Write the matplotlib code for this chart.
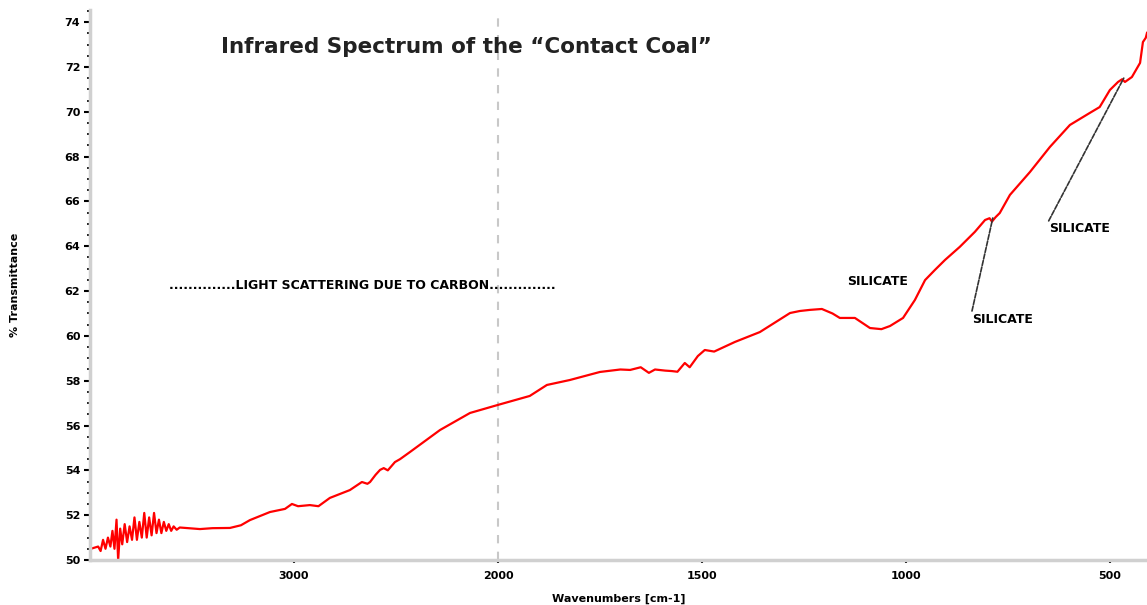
import numpy as np
import matplotlib
matplotlib.use("Agg")
import matplotlib.pyplot as plt

# Spectrum (wavenumber in cm-1, % transmittance)
noisy_wn = [4000, 3960, 3948, 3936, 3924, 3912, 3900, 3890, 3880, 3870, 3862,
            3852, 3842, 3830, 3818, 3806, 3794, 3782, 3770, 3758, 3746, 3734,
            3722, 3710, 3698, 3686, 3674, 3662, 3650, 3638, 3626, 3614, 3602,
            3590, 3575, 3560]
noisy_t = [50.49, 50.6, 50.4, 50.9, 50.5, 51.0, 50.6, 51.3, 50.5, 51.8, 50.0,
           51.4, 50.7, 51.6, 50.8, 51.5, 50.9, 51.9, 50.9, 51.7, 51.0, 52.1,
           51.0, 51.9, 51.1, 52.1, 51.2, 51.8, 51.2, 51.7, 51.3, 51.6, 51.3,
           51.5, 51.35, 51.45]

main_wn = [3461, 3400, 3314, 3260, 3216, 3118, 3044, 3010, 2980, 2922, 2880,
           2824, 2726, 2667, 2640, 2627, 2600, 2578, 2560, 2540, 2505, 2480,
           2431, 2284, 2137, 2000, 1922, 1880, 1824, 1750, 1700, 1676, 1650,
           1630, 1615, 1590, 1574, 1560, 1542, 1530, 1510, 1493, 1470, 1419,
           1358, 1284, 1260, 1235, 1206, 1180, 1162, 1125, 1088, 1060, 1039,
           1007, 978, 953, 929, 904, 868, 831, 806, 795, 789, 780, 770, 745,
           696, 647, 598, 549, 525, 500, 480, 470, 463, 446, 426, 419, 412, 409]
main_t = [51.38, 51.42, 51.43, 51.55, 51.78, 52.14, 52.28, 52.5, 52.4, 52.45,
          52.4, 52.77, 53.12, 53.48, 53.4, 53.48, 53.8, 54.02, 54.1, 54.0,
          54.37, 54.5, 54.82, 55.80, 56.56, 56.92, 57.32, 57.81, 58.03, 58.39,
          58.5, 58.48, 58.6, 58.35, 58.5, 58.45, 58.43, 58.4, 58.79, 58.6,
          59.1, 59.37, 59.3, 59.73, 60.17, 61.02, 61.11, 61.16, 61.20, 61.0,
          60.80, 60.80, 60.35, 60.3, 60.44, 60.80, 61.60, 62.49, 62.94, 63.39,
          63.97, 64.64, 65.17, 65.25, 65.10, 65.30, 65.48, 66.29, 67.31, 68.43,
          69.41, 69.95, 70.21, 70.97, 71.33, 71.45, 71.33, 71.55, 72.18, 73.11,
          73.3, 73.52]

x_ticks = [3000, 2000, 1500, 1000, 500]
y_ticks = list(range(50, 75, 2))

wn = np.array(noisy_wn + main_wn, dtype=float)
trans = np.array(noisy_t + main_t)


# axis is compressed 2:1 above 2000 cm-1
def forward(w):
    w = np.asarray(w, dtype=float)
    return np.where(w > 2000, 1000 + w / 2, w)


def inverse(u):
    u = np.asarray(u, dtype=float)
    return np.where(u > 2000, 2 * (u - 1000), u)


fig = plt.figure(figsize=(11.47, 6.05), dpi=100)
ax = fig.add_axes([90 / 1147, 45 / 605, 1057 / 1147, 550 / 605])
ax.set_xscale("function", functions=(forward, inverse))

ax.plot(wn, trans, color="#ff0000", lw=1.6)
ax.axvline(2000, color="#c8c8c8", lw=1.5, ls=(0, (4, 4)), zorder=0)

ax.set_xlim(4000, 409)
ax.set_ylim(50, 74.54)
ax.set_xticks(x_ticks)
ax.set_xticklabels([str(t) for t in x_ticks], fontsize=8, fontweight="bold")
ax.set_yticks(y_ticks)
ax.set_yticklabels([str(t) for t in y_ticks], fontsize=8, fontweight="bold")
ax.set_yticks(np.arange(50, 74.6, 0.5), minor=True)
ax.xaxis.set_minor_locator(matplotlib.ticker.NullLocator())
ax.tick_params(axis="y", which="major", length=4, width=1.5, pad=3)
ax.tick_params(axis="y", which="minor", length=2, width=1.2)
ax.tick_params(axis="x", which="major", length=2, width=1.5, pad=6)

for side in ("top", "right"):
    ax.spines[side].set_visible(False)
for side in ("left", "bottom"):
    ax.spines[side].set_color("#d0d0d0")
    ax.spines[side].set_linewidth(2.5)

ax.set_ylabel("% Transmittance", fontsize=8, fontweight="bold", labelpad=32)
ax.set_xlabel("Wavenumbers [cm-1]", fontsize=8, fontweight="bold", labelpad=9)

fig.text(0.407, 0.922, "Infrared Spectrum of the \u201cContact Coal\u201d",
         ha="center", va="center", fontsize=15.5, fontweight="bold",
         color="#222222")

dots = "." * 14
ax.text(2667, 62.23, dots + "LIGHT SCATTERING DUE TO CARBON" + dots,
        ha="center", va="center", fontsize=9, fontweight="bold")

label_kw = dict(ha="center", va="center", fontsize=9, fontweight="bold")
line_props = dict(arrowstyle="-", color="#333333", lw=1.2, ls=(0, (3, 1)),
                  shrinkA=0, shrinkB=0)
ax.text(1069, 62.41, "SILICATE", **label_kw)
ax.text(762, 60.75, "SILICATE", **label_kw)
ax.text(574, 64.77, "SILICATE", **label_kw)
ax.annotate("", xy=(787, 65.26), xytext=(838, 61.11), arrowprops=line_props)
ax.annotate("", xy=(466, 71.5), xytext=(650, 65.13), arrowprops=line_props)

fig.savefig("out.png", dpi=100)
